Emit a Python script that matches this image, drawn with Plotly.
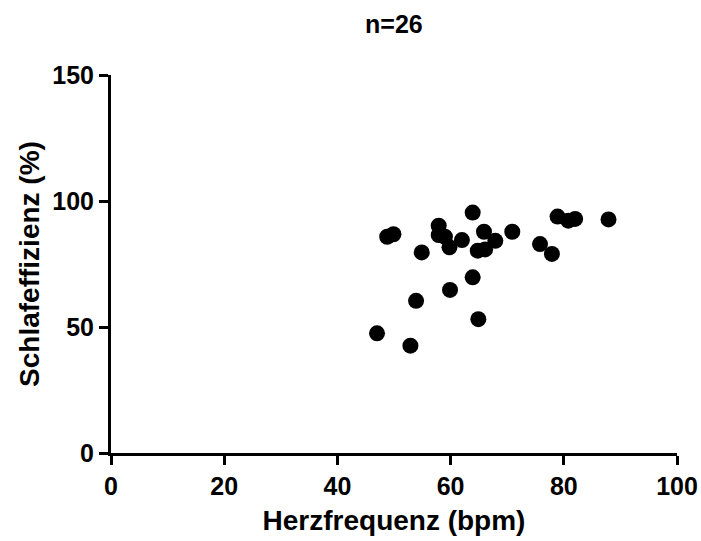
import plotly.graph_objects as go

heart_rate = [63.9, 57.9, 49.9, 48.8, 57.9, 59.0, 62.0, 65.9, 59.8, 54.9, 67.9, 64.8, 66.1,
              70.9, 75.8, 77.9, 63.9, 59.9, 53.9, 64.9, 47.0, 52.9, 78.9, 80.8, 82.0, 87.9]
sleep_eff = [95.4, 90.2, 86.8, 85.8, 86.5, 85.8, 84.5, 87.8, 81.6, 79.6, 84.2, 80.3, 80.8,
             87.8, 82.9, 79.0, 69.7, 64.7, 60.4, 53.1, 47.5, 42.6, 93.8, 92.2, 92.9, 92.7]

x_ticks = [0, 20, 40, 60, 80, 100]
y_ticks = [0, 50, 100, 150]

FONT = "Liberation Sans, Arial, sans-serif"

fig = go.Figure(go.Scatter(
    x=heart_rate, y=sleep_eff, mode="markers",
    marker=dict(size=16, color="black", line=dict(width=0)),
    cliponaxis=False,
))

fig.update_layout(
    width=701, height=541,
    margin=dict(l=110.5, r=24, t=75, b=88, autoexpand=False),
    paper_bgcolor="white", plot_bgcolor="white",
    showlegend=False,
    font=dict(family=FONT, color="black"),
    title=dict(text="<b>n=26</b>", x=0.5619, xanchor="center", y=1 - 24.5 / 541, yanchor="middle",
               font=dict(size=25, family=FONT, color="black")),
    xaxis=dict(range=[0, 100], tickvals=x_ticks, ticktext=[f"<b>{v}</b>" for v in x_ticks],
               showgrid=False, zeroline=False, showline=True, linecolor="black", linewidth=3,
               ticks="outside", ticklen=9, tickwidth=3, tickcolor="black",
               tickfont=dict(size=25, family=FONT, color="black"),
               title=dict(text="<b>Herzfrequenz (bpm)</b>", font=dict(size=28, family=FONT), standoff=12)),
    yaxis=dict(range=[0, 150], tickvals=y_ticks, ticktext=[f"<b>{v}</b>" for v in y_ticks],
               showgrid=False, zeroline=False, showline=True, linecolor="black", linewidth=3,
               ticks="outside", ticklen=9, tickwidth=3, tickcolor="black",
               tickfont=dict(size=25, family=FONT, color="black"),
               title=dict(text="<b>Schlafeffizienz (%)</b>", font=dict(size=28, family=FONT), standoff=5)),
)

fig.write_html("out.html")
